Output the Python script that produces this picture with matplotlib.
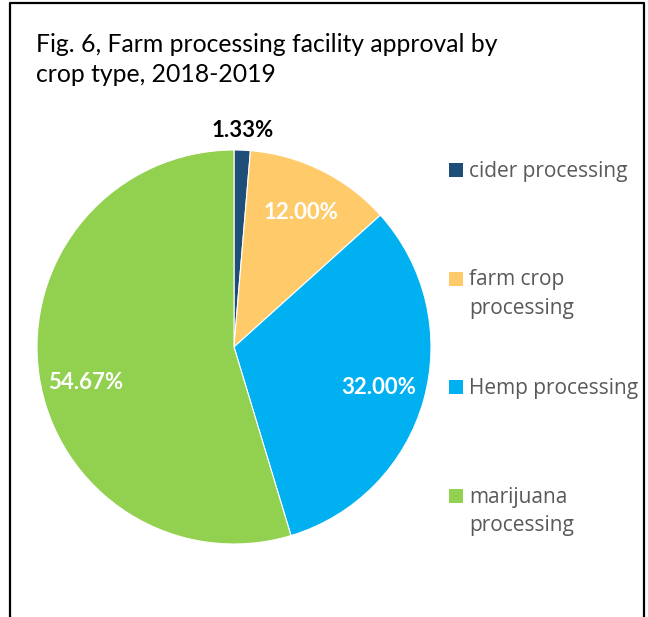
import numpy as np
import matplotlib
matplotlib.use("Agg")
from matplotlib import pyplot as plt
from matplotlib.patches import Rectangle
from matplotlib.lines import Line2D

# data
categories = ["cider processing", "farm crop\nprocessing", "Hemp processing", "marijuana\nprocessing"]
shares = [1.33, 12.00, 32.00, 54.67]
colors = ["#1F4E79", "#FFCA69", "#00B0F0", "#92D050"]
title = "Fig. 6, Farm processing facility approval by\ncrop type, 2018-2019"

W, H = 648, 617
fig = plt.figure(figsize=(W / 100, H / 100), dpi=100)

def fx(px):
    return px / W

def fy(py):
    return 1 - py / H

def put_lines(x, y0, text, step, **kw):
    # one text per line so each baseline sits where we want it
    for k, line in enumerate(text.split("\n")):
        fig.text(fx(x), fy(y0 + k * step), line, ha="left", va="baseline", **kw)

# outer frame (open at the bottom)
fig.add_artist(Line2D([fx(10), fx(10), fx(644), fx(644)], [0, fy(3), fy(3), 0],
                      color="black", lw=1.6, transform=fig.transFigure))

put_lines(36, 52, title, 30, fontsize=17.8, family=["Lato", "DejaVu Sans"], color="black")

# pie
ax = fig.add_axes([fx(37), fy(544), fx(431) - fx(37), fy(150) - fy(544)])
wedges, _ = ax.pie(shares, colors=colors, startangle=90, counterclock=False,
                   radius=1, wedgeprops=dict(linewidth=0.8, edgecolor="white"))
ax.set_xlim(-1, 1)
ax.set_ylim(-1, 1)
ax.set_aspect("auto")
ax.axis("off")

# percentage labels
start = 90.0
for i, v in enumerate(shares):
    mid = np.deg2rad(start - v * 3.6 / 2)
    start -= v * 3.6
    if i == 0:
        r, col = 1.10, "black"
    else:
        r, col = 0.76, "white"
    yoff = -0.07 if i == 3 else 0
    ax.text(r * np.cos(mid), r * np.sin(mid) + yoff, "%.2f%%" % v, ha="center", va="center",
            color=col, fontsize=16, fontweight="bold", family=["Lato", "DejaVu Sans"])

# legend
for i, lab in enumerate(categories):
    top = 163 + i * 108.7
    fig.add_artist(Rectangle((fx(449), fy(top + 14)), fx(14), fy(0) - fy(14),
                             facecolor=colors[i], edgecolor="none", transform=fig.transFigure))
    put_lines(469, top + 13.5, lab, 28.5, fontsize=15, family=["Open Sans", "DejaVu Sans"],
              color="#595959")

fig.savefig("out.png", dpi=100)
